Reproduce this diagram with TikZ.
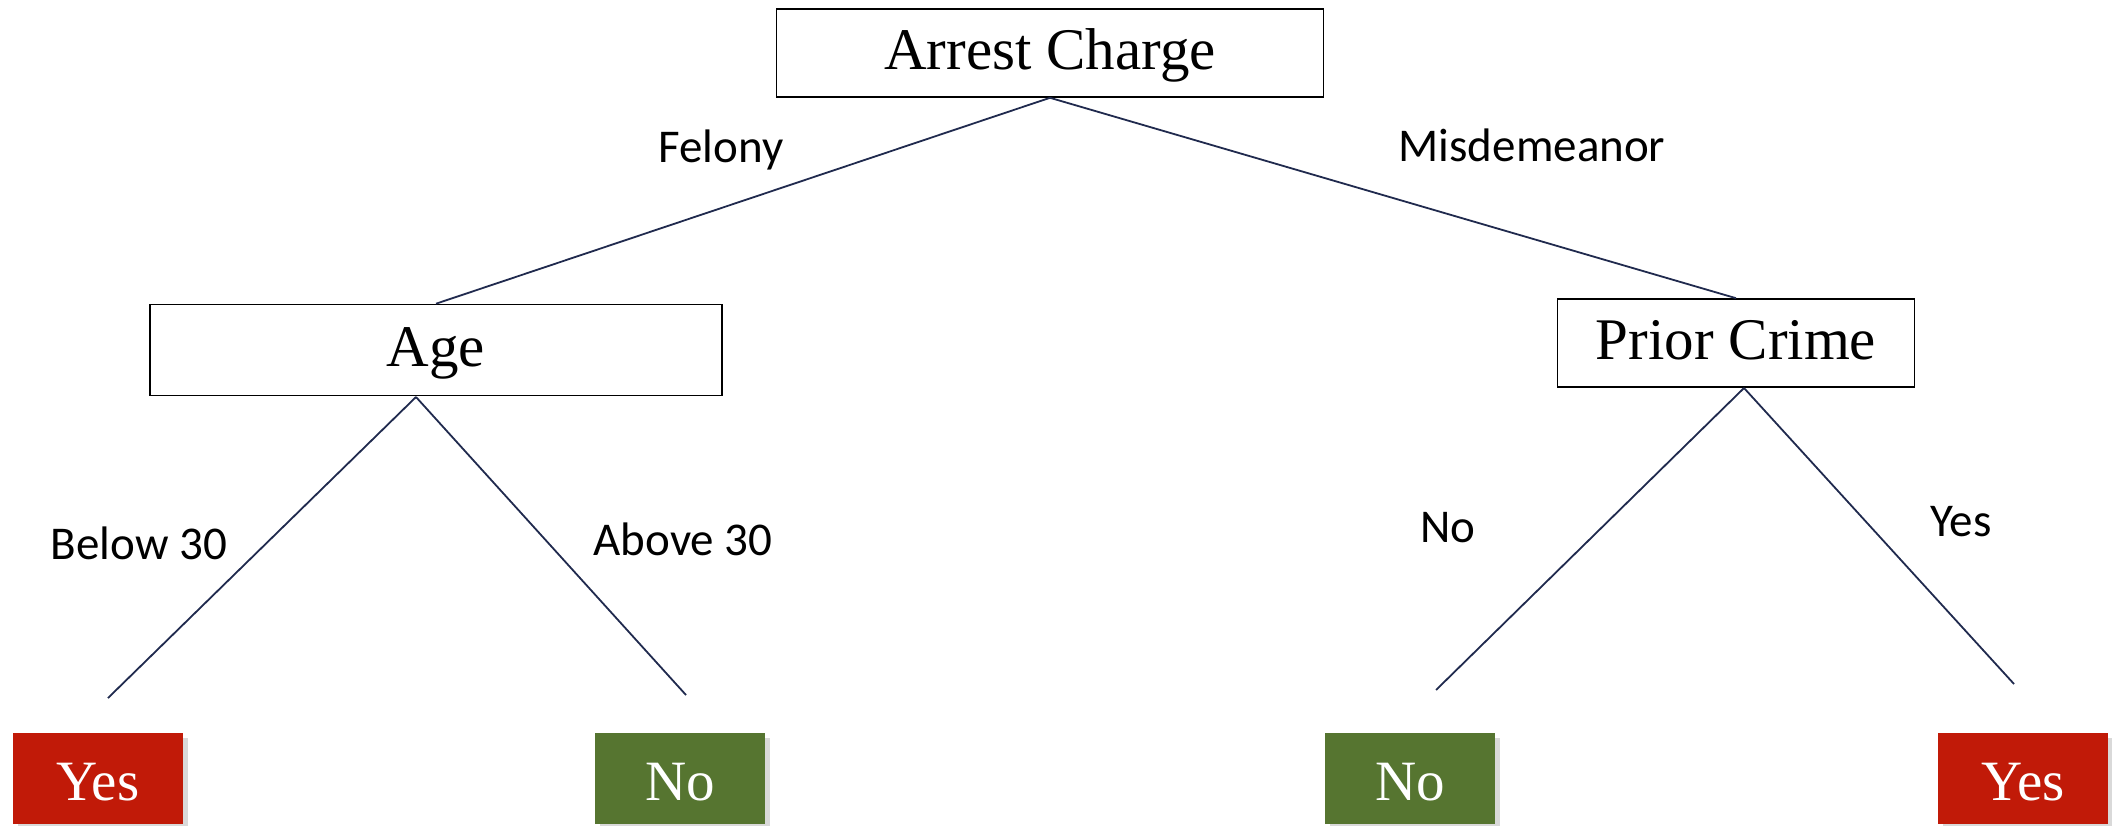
\documentclass[tikz,border=0pt]{standalone}
\usepackage{fontspec}
\setmainfont{Liberation Serif}
\newfontfamily\edgefont{Carlito}
\usetikzlibrary{shadows}
\definecolor{linkblue}{RGB}{32,42,78}
\definecolor{leafred}{RGB}{193,26,8}
\definecolor{leafgreen}{RGB}{86,117,48}

\begin{document}
\begin{tikzpicture}[x=0.5pt, y=-0.5pt,
		splitbox/.style={draw=black, line width=0.8pt, fill=white, inner sep=0pt, minimum height=44pt, text height=21pt, text depth=5pt, font=\fontsize{29.5}{34}\selectfont},
		leafbox/.style={inner sep=0pt, minimum width=85pt, minimum height=45.5pt, text height=22.5pt, text depth=0pt, text=white, font=\fontsize{28.5}{33}\selectfont, drop shadow={shadow xshift=2.5pt, shadow yshift=-2.5pt, opacity=0.3}},
		link/.style={draw=linkblue, line width=0.9pt},
		edgelabel/.style={font=\edgefont\fontsize{23.5}{28}\selectfont}]
				\useasboundingbox (0,0) rectangle (2112,825);

				% split nodes
				\node[splitbox, minimum width=273.5pt] (charge) at (1050,53) {Arrest Charge};
				\node[splitbox, minimum width=286pt, minimum height=45.5pt] (age) at (436,350) {Age};
				\node[splitbox, minimum width=178.5pt] (prior) at (1736,343) {Prior Crime};

				% leaves
				\node[leafbox, fill=leafred] (ageyes) at (98,778) {Yes};
				\node[leafbox, fill=leafgreen] (ageno) at (680,778) {No};
				\node[leafbox, fill=leafgreen] (priorno) at (1410,778) {No};
				\node[leafbox, fill=leafred] (prioryes) at (2023,778) {Yes};

				\coordinate (agefoot) at (416,397);
				\coordinate (priorfoot) at (1744,388);
				\coordinate (endbelow) at (108,698);
				\coordinate (endabove) at (686,695);
				\coordinate (endno) at (1436,690);
				\coordinate (endyes) at (2014,684);

				\draw[link] (charge.south) -- (age.north);
				\draw[link] (charge.south) -- (prior.north);
				\draw[link] (agefoot) -- (endbelow);
				\draw[link] (agefoot) -- (endabove);
				\draw[link] (priorfoot) -- (endno);
				\draw[link] (priorfoot) -- (endyes);

				\node[edgelabel] (felony) at (721,150) {Felony};
				\node[edgelabel] (misdemeanor) at (1532,145) {Misdemeanor};
				\node[edgelabel] (below) at (139,543) {Below 30};
				\node[edgelabel] (above) at (683,539) {Above 30};
				\node[edgelabel] (no) at (1448,528) {No};
				\node[edgelabel] (yes) at (1961,522) {Yes};
			\end{tikzpicture}
\end{document}
